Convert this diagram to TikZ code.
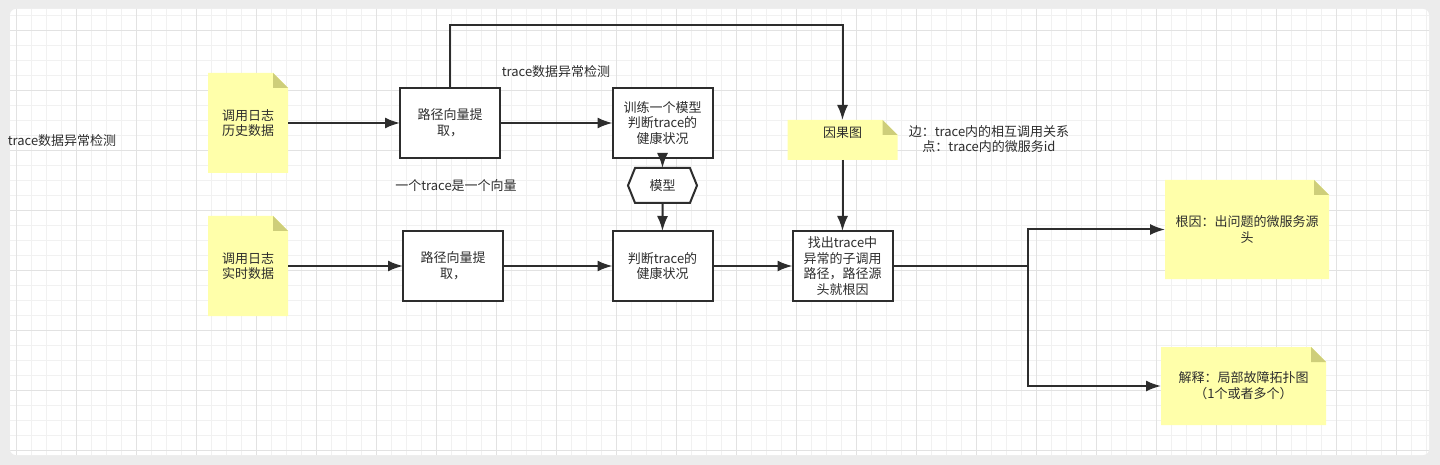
\documentclass[tikz,border=0pt]{standalone}
\usepackage{fontspec}
\setmainfont{Noto Sans CJK SC}
\usetikzlibrary{arrows.meta,positioning,shapes.symbols}
\definecolor{lineColor}{RGB}{45,45,45}
\definecolor{noteColor}{RGB}{255,255,170}
\definecolor{foldColor}{RGB}{206,206,122}
\definecolor{gridMinorColor}{RGB}{241,241,241}
\definecolor{gridMajorColor}{RGB}{226,226,226}
\definecolor{frameColor}{RGB}{236,236,236}

% note with a folded corner
\makeatletter
\def\notefold{15pt}
\pgfdeclareshape{foldnote}{
  \inheritsavedanchors[from=rectangle]
  \inheritanchorborder[from=rectangle]
  \inheritanchor[from=rectangle]{center}
  \inheritanchor[from=rectangle]{north}
  \inheritanchor[from=rectangle]{south}
  \inheritanchor[from=rectangle]{east}
  \inheritanchor[from=rectangle]{west}
  \inheritanchor[from=rectangle]{north east}
  \inheritanchor[from=rectangle]{north west}
  \inheritanchor[from=rectangle]{south east}
  \inheritanchor[from=rectangle]{south west}
  \backgroundpath{
    \southwest \pgf@xa=\pgf@x \pgf@ya=\pgf@y
    \northeast \pgf@xb=\pgf@x \pgf@yb=\pgf@y
    \pgf@xc=\pgf@xb \advance\pgf@xc by -\notefold
    \pgf@yc=\pgf@yb \advance\pgf@yc by -\notefold
    \pgfpathmoveto{\pgfqpoint{\pgf@xa}{\pgf@ya}}
    \pgfpathlineto{\pgfqpoint{\pgf@xa}{\pgf@yb}}
    \pgfpathlineto{\pgfqpoint{\pgf@xc}{\pgf@yb}}
    \pgfpathlineto{\pgfqpoint{\pgf@xb}{\pgf@yc}}
    \pgfpathlineto{\pgfqpoint{\pgf@xb}{\pgf@ya}}
    \pgfpathclose
  }
  \beforebackgroundpath{
    \pgfscope
    \northeast \pgf@xb=\pgf@x \pgf@yb=\pgf@y
    \pgf@xc=\pgf@xb \advance\pgf@xc by -\notefold
    \pgf@yc=\pgf@yb \advance\pgf@yc by -\notefold
    \pgfsetfillcolor{foldColor}
    \pgfpathmoveto{\pgfqpoint{\pgf@xc}{\pgf@yb}}
    \pgfpathlineto{\pgfqpoint{\pgf@xb}{\pgf@yc}}
    \pgfpathlineto{\pgfqpoint{\pgf@xc}{\pgf@yc}}
    \pgfpathclose
    \pgfusepath{fill}
    \endpgfscope
  }
}
\makeatother

\tikzset{note/.style={shape=foldnote, fill=noteColor, align=center, text=lineColor, outer sep=0pt, inner sep=2pt}}
\tikzset{process/.style={draw=lineColor, line width=2pt, fill=white, align=center, text=lineColor, minimum width=100pt, minimum height=70pt, inner sep=2pt, outer sep=0pt}}
\tikzset{modelbox/.style={process, shape=signal, signal to=west and east, signal pointer angle=136, minimum width=69pt, minimum height=35pt}}
\tikzset{caption/.style={text=lineColor, align=center}}
\tikzset{flowline/.style={draw=lineColor, line width=2pt}}

\begin{document}
\begin{tikzpicture}[x=1pt, y=1pt, font=\fontsize{13pt}{15.8pt}\selectfont]
\useasboundingbox (0,0) rectangle (1440,-465);
% Background
\fill[frameColor] (0,0) rectangle (1440,-465);
\fill[white, rounded corners=6pt] (10,-9) rectangle (1429,-455);
\begin{scope}
    \clip[rounded corners=6pt] (10,-9) rectangle (1429,-455);
    \draw[gridMinorColor, line width=0.8pt, step=15, xshift=1.7pt] (-15,15) grid (1440,-465);
    \draw[gridMajorColor, line width=0.8pt, step=60, xshift=16.7pt, yshift=-30pt] (-60,60) grid (1440,-465);
\end{scope}

% Nodes
    \node (HistoryLog) [note, minimum width=80pt, minimum height=100pt] at (248,-123) {调用日志\\历史数据};

    \node (HistoryVector) [process, right=112pt of HistoryLog] {路径向量提\\取，};

    \node (TrainModel) [process, right=112.5pt of HistoryVector] {训练一个模型\\判断trace的\\健康状况};

    \node (Model) [modelbox, below=10pt of TrainModel] {模型};


    \node (RealtimeLog) [note, minimum width=80pt, minimum height=100pt, below=43pt of HistoryLog] {调用日志\\实时数据};

    \node (RealtimeVector) [process, right=115pt of RealtimeLog] {路径向量提\\取，};

    \node (JudgeHealth) [process, below=28pt of Model] {判断trace的\\健康状况};

    \node (FindRoot) [process, right=80pt of JudgeHealth] {找出trace中\\异常的子调用\\路径，路径源\\头就根因};

    \node (CausalGraph) [note, minimum width=110pt, minimum height=40pt, text depth=15.6pt, above=71pt of FindRoot] {因果图};


    \node (RootCause) [note, minimum width=164pt, minimum height=99pt] at (1247,-229.5) {根因：出问题的微服务源\\头};

    \node (Explanation) [note, minimum width=165pt, minimum height=78pt] at (1243.5,-386) {解释：局部故障拓扑图\\（1个或者多个）};

    \path (FindRoot.east) ++(135,0) coordinate (Split);

% Labels
    \node (DetectTitle) [caption] at (62,-141) {trace数据异常检测};
    \node (DetectLabel) [caption] at (556,-72) {trace数据异常检测};
    \node (VectorLabel) [caption] at (456,-186) {一个trace是一个向量};
    \node (GraphLabel) [caption] at (989,-139) {边：trace内的相互调用关系\\点：trace内的微服务id};

% Connectors
    \draw [flowline, -{Latex[length=15pt,width=11pt]}] (HistoryLog) -- (HistoryVector);
    \draw [flowline, -{Latex[length=15pt,width=11pt]}] (HistoryVector) -- (TrainModel);
    \draw [flowline, -{Latex[length=15pt,width=11pt]}] (TrainModel) -- (Model);
    \draw [flowline, -{Latex[length=15pt,width=11pt]}] (Model) -- (JudgeHealth);

    \draw [flowline, -{Latex[length=15pt,width=11pt]}] (RealtimeLog) -- (RealtimeVector);
    \draw [flowline, -{Latex[length=15pt,width=11pt]}] (RealtimeVector) -- (JudgeHealth);
    \draw [flowline, -{Latex[length=15pt,width=11pt]}] (JudgeHealth) -- (FindRoot);

    \draw [flowline, -{Latex[length=15pt,width=11pt]}] (HistoryVector.north) -- ++(0,63) -| (CausalGraph);
    \draw [flowline, -{Latex[length=15pt,width=11pt]}] (CausalGraph) -- (FindRoot);

    \draw [flowline, -{Latex[length=15pt,width=11pt]}] (FindRoot) -- (Split) |- (RootCause);
    \draw [flowline, -{Latex[length=15pt,width=11pt]}] (Split) |- (Explanation);

\end{tikzpicture}
\end{document}
